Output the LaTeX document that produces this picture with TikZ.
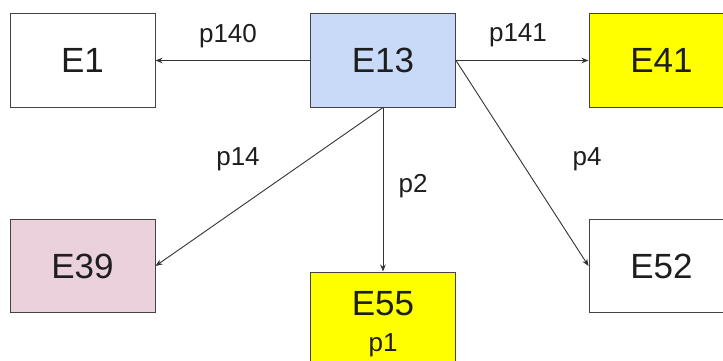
\documentclass[tikz,border=0pt]{standalone}
\usepackage{fontspec}
\setmainfont{Liberation Sans}
\usetikzlibrary{arrows.meta}
\definecolor{boxline}{HTML}{434343}
\definecolor{edgegray}{HTML}{333333}
\definecolor{inktext}{HTML}{1E1E1E}
\definecolor{lightblue}{HTML}{C9DAF8}
\definecolor{lightpink}{HTML}{EAD1DC}
\definecolor{brightyellow}{HTML}{FFFF00}
\begin{document}
\begin{tikzpicture}[x=1pt,y=-1pt,
  box/.style={draw=boxline, line width=1pt, minimum width=145pt, minimum height=93pt,
    inner sep=0pt, text=inktext, font=\fontsize{35}{40}\selectfont},
  lbl/.style={anchor=base, inner sep=0pt, text=inktext, font=\fontsize{26}{30}\selectfont},
  link/.style={draw=edgegray, line width=0.9pt, -{Stealth[length=7pt,width=5.5pt]}}]
\useasboundingbox (0,0) rectangle (723,361);
\clip (0,0) rectangle (723,361);
\fill[white] (0,0) rectangle (723,361);

% entity boxes
\node[box] (e1) at (82.5,60.5) {E1};
\node[box, fill=lightblue] (e13) at (383,60.5) {E13};
\node[box, fill=brightyellow] (e41) at (661.5,60.5) {E41};
\node[box, fill=lightpink] (e39) at (82.5,266) {E39};
\node[box, fill=brightyellow] (e55) at (383,318.5) {};
\node[box] (e52) at (661.5,266) {E52};

% two-line content of E55
\node[lbl, font=\fontsize{35}{40}\selectfont] (e55name) at (383,315) {E55};
\node[lbl] (e55prop) at (383,351) {p1};

% relations leaving E13
\draw[link] (e13.west) -- (e1.east);
\draw[link] (e13.east) -- (e41.west);
\draw[link] (e13.south) -- (e39.east);
\draw[link] (e13.south) -- (e55.north);
\draw[link] (e13.east) -- (e52.west);

% relation labels
\node[lbl] (l140) at (228,43) {p140};
\node[lbl] (l141) at (518,42) {p141};
\node[lbl] (l14) at (238,165) {p14};
\node[lbl] (l2) at (413,192) {p2};
\node[lbl] (l4) at (587,165) {p4};
\end{tikzpicture}
\end{document}
